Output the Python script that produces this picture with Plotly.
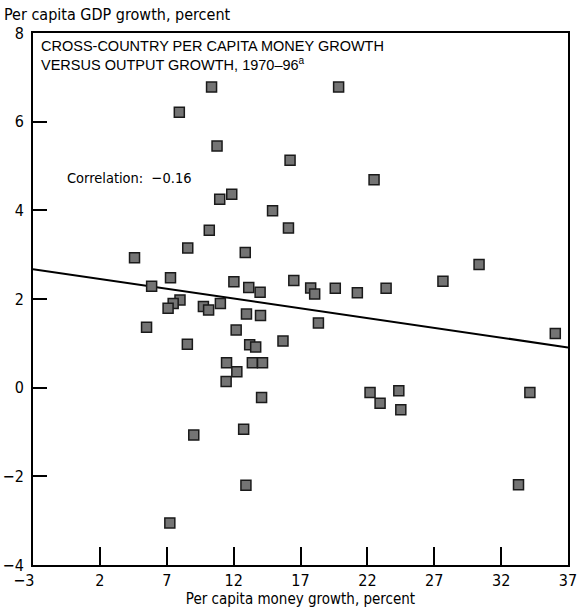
import plotly.graph_objects as go

# Per capita money growth (x) and per capita GDP growth (y), percent, 1970-96
money_growth = [
    10.35, 19.85, 7.94, 10.76, 16.22, 22.50, 11.86, 10.96, 14.91, 16.10,
    10.18, 8.57, 12.87, 4.59, 7.28, 16.50, 27.65, 30.35, 12.02, 5.87,
    13.13, 17.76, 18.06, 19.60, 21.25, 23.40, 13.98, 7.99, 7.48, 7.10,
    9.74, 10.13, 11.01, 5.49, 12.96, 14.01, 12.19, 18.34, 8.54, 13.20,
    13.65, 15.69, 36.05, 11.47, 13.40, 14.16, 12.24, 11.44, 14.09, 9.02,
    12.75, 12.92, 7.23, 22.20, 24.35, 22.95, 24.50, 34.15, 33.30,
]
gdp_growth = [
    6.78, 6.78, 6.21, 5.45, 5.13, 4.69, 4.36, 4.25, 3.99, 3.60,
    3.55, 3.15, 3.05, 2.93, 2.48, 2.42, 2.40, 2.78, 2.39, 2.29,
    2.26, 2.25, 2.11, 2.24, 2.14, 2.24, 2.15, 1.98, 1.90, 1.79,
    1.83, 1.75, 1.90, 1.36, 1.66, 1.63, 1.30, 1.46, 0.98, 0.97,
    0.92, 1.05, 1.22, 0.56, 0.56, 0.56, 0.36, 0.14, -0.22, -1.07,
    -0.94, -2.20, -3.05, -0.11, -0.07, -0.35, -0.50, -0.11, -2.19,
]

# Fitted trend line
fit_slope = -0.0441
fit_intercept = 2.54
fit_x = [-3, 37]

x_ticks = [-3, 2, 7, 12, 17, 22, 27, 32, 37]
# the minus sign hangs to the left of the tick, the digit sits under it
x_tick_text = ["\u22123\u2007\u2007", "2", "7", "12", "17", "22", "27", "32", "37"]
y_ticks = [-4, -2, 0, 2, 4, 6, 8]

NARROW = "DejaVu Sans Condensed, Liberation Sans Narrow, Arial Narrow, sans-serif"
REGULAR = "Liberation Sans, Arial, sans-serif"

fig = go.Figure()

fig.add_trace(go.Scatter(
    x=fit_x,
    y=[fit_intercept + fit_slope * v for v in fit_x],
    mode="lines",
    line=dict(color="black", width=2),
    hoverinfo="skip",
))

fig.add_trace(go.Scatter(
    x=money_growth,
    y=gdp_growth,
    mode="markers",
    marker=dict(symbol="square", size=10, color="#747474",
                line=dict(color="#1a1a1a", width=1.5)),
))

fig.update_layout(
    width=583,
    height=609,
    margin=dict(l=33, r=15, t=33, b=44),
    paper_bgcolor="white",
    plot_bgcolor="white",
    showlegend=False,
    font=dict(family=NARROW, size=16, color="black"),
    xaxis=dict(
        range=[-3, 37],
        tickvals=x_ticks,
        ticktext=x_tick_text,
        ticks="inside",
        ticklen=18,
        tickwidth=2,
        tickcolor="black",
        showline=True,
        linewidth=2,
        linecolor="black",
        mirror=True,
        showgrid=False,
        zeroline=False,
        automargin=False,
        tickfont=dict(family=NARROW, size=16),
        title=dict(text="Per capita money growth, percent",
                   font=dict(family=NARROW, size=15), standoff=2),
    ),
    yaxis=dict(
        range=[-4, 8],
        tickvals=y_ticks,
        ticks="inside",
        ticklen=14,
        tickwidth=2,
        tickcolor="black",
        showline=True,
        linewidth=2,
        linecolor="black",
        mirror=True,
        showgrid=False,
        zeroline=False,
        automargin=False,
        ticklabelstandoff=4,
        tickfont=dict(family=NARROW, size=16),
    ),
)

fig.add_annotation(
    text="Per capita GDP growth, percent",
    xref="paper", yref="paper", x=-0.058, y=1.0, yshift=7,
    xanchor="left", yanchor="bottom", showarrow=False,
    font=dict(family=NARROW, size=16),
)

fig.add_annotation(
    text="CROSS-COUNTRY PER CAPITA MONEY GROWTH<br>VERSUS OUTPUT GROWTH, 1970\u201396<sup>a</sup>",
    xref="paper", yref="paper", x=0.011, y=0.994,
    xanchor="left", yanchor="top", align="left", showarrow=False,
    font=dict(family=REGULAR, size=14.5),
)

fig.add_annotation(
    text="Correlation:  \u22120.16",
    xref="x", yref="y", x=-0.6, y=4.74,
    xanchor="left", yanchor="middle", showarrow=False,
    font=dict(family=NARROW, size=14.5),
)

fig.write_html("out.html")
